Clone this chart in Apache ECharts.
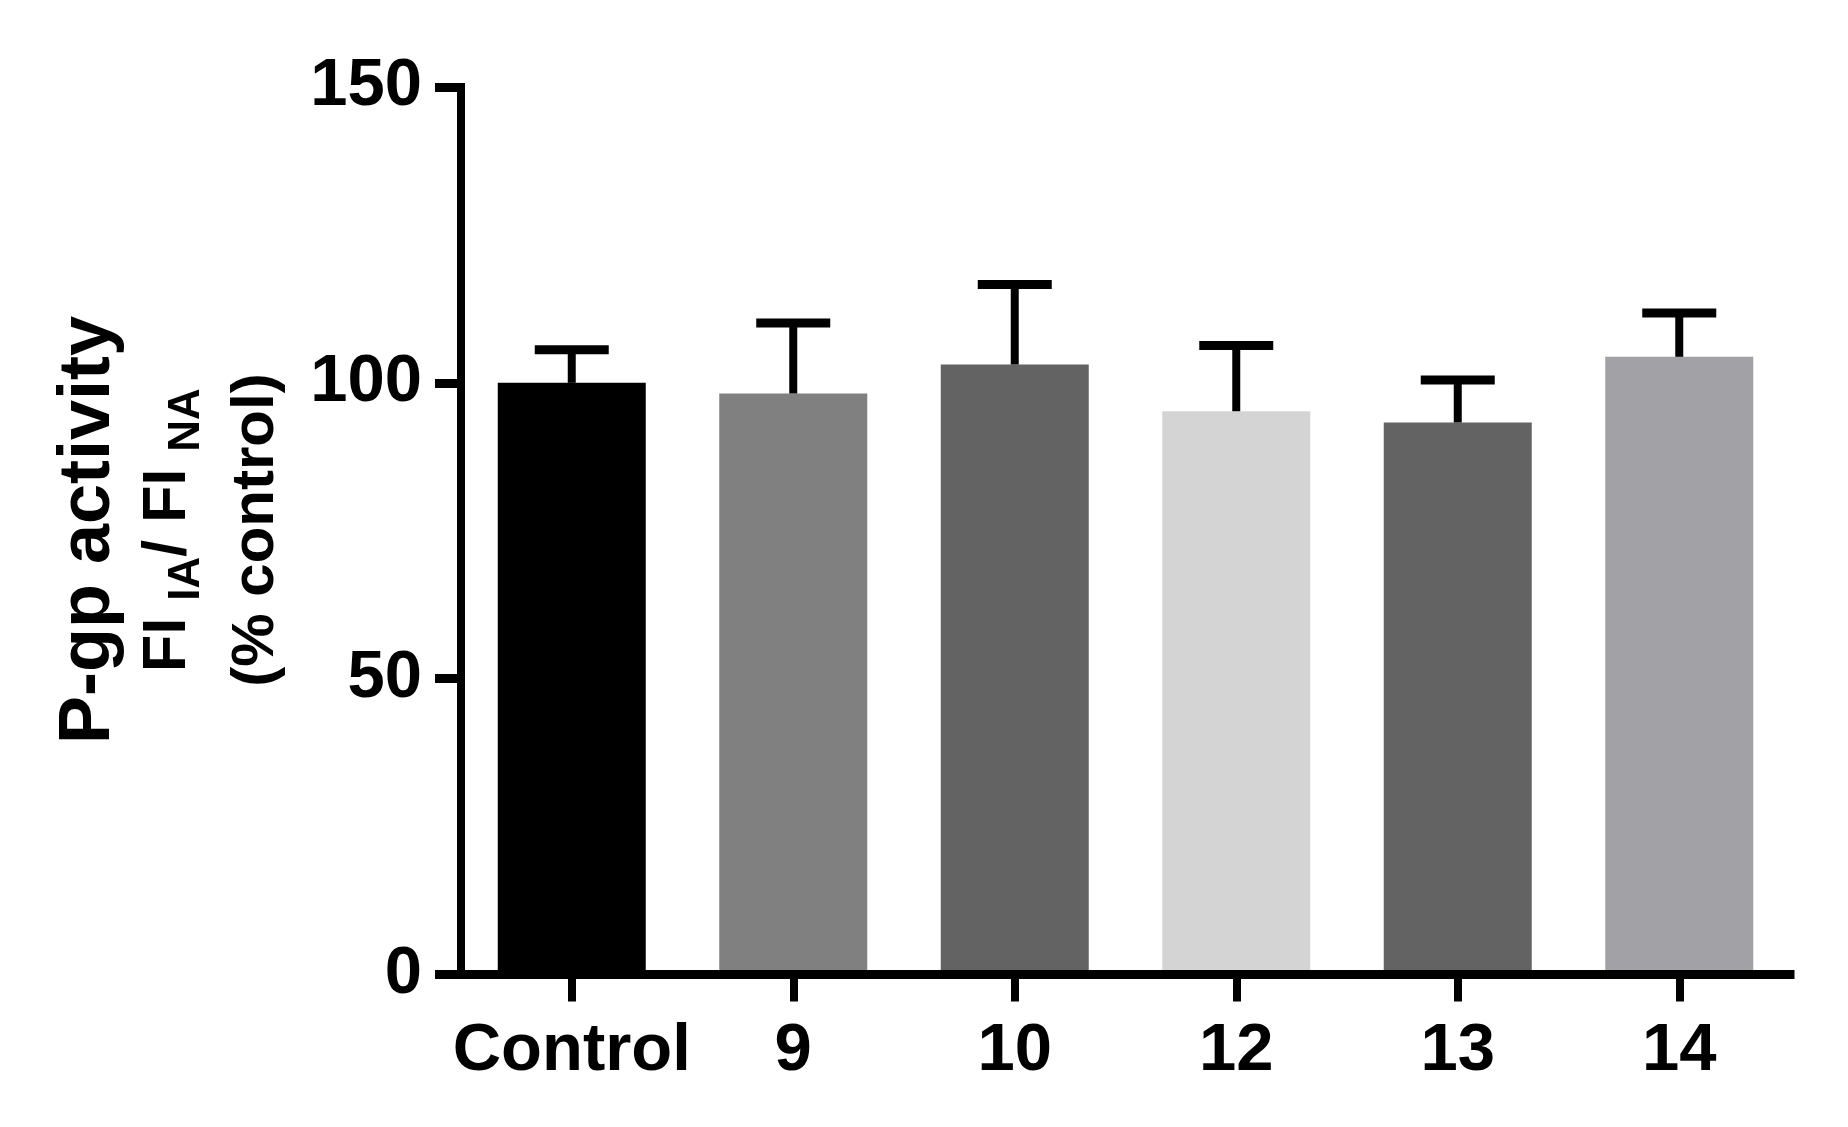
<!DOCTYPE html>
<html><head><meta charset="utf-8">
<script src="https://cdn.jsdelivr.net/npm/echarts@6/dist/echarts.min.js"></script>
<style>html,body{margin:0;padding:0;background:#fff}#c{width:1848px;height:1127px}</style>
</head><body><div id="c"></div>
<script>
const categories = ['Control', '9', '10', '12', '13', '14'];
const means = [100, 98.2, 103.1, 95.2, 93.3, 104.4];
const sdUpper = [5.6, 11.9, 13.5, 11.1, 7.2, 7.4];
const yTicks = [0, 50, 100, 150];
const barColors = ['#000000', '#808080', '#636363', '#d4d4d4', '#636363', '#a2a1a5'];

const FONT = '"Liberation Sans", Arial, Helvetica, sans-serif';
const chart = echarts.init(document.getElementById('c'), null, { renderer: 'canvas' });

const mctx = document.createElement('canvas').getContext('2d');
function tw(t, size) { mctx.font = 'bold ' + size + 'px ' + FONT; return mctx.measureText(t).width; }

const M = 61, S = 44;
const pieces = [['FI ', M, 0], ['IA', S, 1], ['/ FI ', M, 0], ['NA', S, 1]];
const total = pieces.reduce((a, p) => a + tw(p[0], p[1]), 0);
let cx = -total / 2;
const line2 = pieces.map(p => {
  const el = {
    type: 'text', x: cx, y: p[2] ? 209 : 199,
    style: { text: p[0], fontSize: p[1], fontWeight: 'bold', fontFamily: FONT, fill: '#000', align: 'left', verticalAlign: 'bottom' }
  };
  cx += tw(p[0], p[1]);
  return el;
});

const option = {
  backgroundColor: '#fff',
  animation: false,
  grid: { left: 461, right: 58, top: 87, bottom: 152.5 },
  xAxis: {
    type: 'category',
    data: categories,
    z: 3,
    axisLine: { show: true, lineStyle: { color: '#000', width: 9, cap: 'square' } },
    axisTick: { show: true, interval: 0, alignWithLabel: true, length: 27, lineStyle: { color: '#000', width: 8 } },
    axisLabel: { interval: 0, hideOverlap: false, color: '#000', fontSize: 67, fontWeight: 'bold', fontFamily: FONT, margin: 44 },
    splitLine: { show: false }
  },
  yAxis: {
    type: 'value',
    min: yTicks[0], max: yTicks[yTicks.length - 1], interval: yTicks[1] - yTicks[0],
    z: 3,
    axisLine: { show: true, lineStyle: { color: '#000', width: 8, cap: 'square' } },
    axisTick: { show: true, length: 26, lineStyle: { color: '#000', width: 9 } },
    axisLabel: { color: '#000', fontSize: 67, fontWeight: 'bold', fontFamily: FONT, margin: 39 },
    splitLine: { show: false }
  },
  graphic: [{
    type: 'group', x: 0, y: 530, rotation: Math.PI / 2,
    children: [
      { type: 'text', x: 0, y: 125, style: { text: 'P-gp activity', fontSize: 72, fontWeight: 'bold', fontFamily: FONT, fill: '#000', align: 'center', verticalAlign: 'bottom' } },
      ...line2,
      { type: 'text', x: 0, y: 286, style: { text: '(% control)', fontSize: 60, fontWeight: 'bold', fontFamily: FONT, fill: '#000', align: 'center', verticalAlign: 'bottom' } }
    ]
  }],
  series: [
    {
      type: 'bar',
      barWidth: 148,
      data: means.map((v, i) => ({ value: v, itemStyle: { color: barColors[i] } })),
      z: 2
    },
    {
      type: 'custom',
      data: categories.map((c, i) => [i, means[i], means[i] + sdUpper[i]]),
      encode: { x: 0, y: 2 },
      z: 4,
      renderItem: function (params, api) {
        const top = api.coord([api.value(0), api.value(2)]);
        const base = api.coord([api.value(0), api.value(1)]);
        const capW = 74, capH = 9, stemW = 8;
        return {
          type: 'group',
          children: [
            { type: 'rect', shape: { x: top[0] - stemW / 2, y: top[1], width: stemW, height: base[1] - top[1] }, style: { fill: '#000' } },
            { type: 'rect', shape: { x: top[0] - capW / 2, y: top[1] - capH / 2, width: capW, height: capH }, style: { fill: '#000' } }
          ]
        };
      }
    }
  ]
};
chart.setOption(option);
</script>
</body></html>
